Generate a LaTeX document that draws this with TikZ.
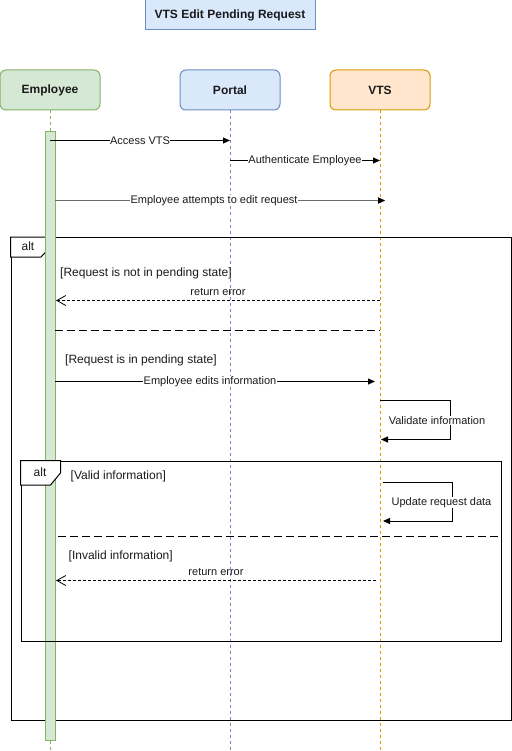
\documentclass[tikz,border=0pt]{standalone}
\usepackage{fontspec}
\setmainfont{Liberation Sans}
\usetikzlibrary{arrows.meta,calc}
\definecolor{empfill}{HTML}{D5E8D4}\definecolor{empdraw}{HTML}{82B366}
\definecolor{porfill}{HTML}{DAE8FC}\definecolor{pordraw}{HTML}{6C8EBF}
\definecolor{vtsfill}{HTML}{FFE6CC}\definecolor{vtsdraw}{HTML}{D79B00}
\definecolor{txt}{HTML}{1A1A1A}
\definecolor{arrgray}{HTML}{6A6A6A}
\tikzset{
  participant/.style={draw, rounded corners=6pt, minimum width=100pt, minimum height=40pt, line width=1pt, font=\fontsize{12}{14}\selectfont\bfseries, text=txt},
  lifeline/.style={line width=1pt, dash pattern=on 3pt off 3pt},
  msg/.style={line width=1pt, -{Triangle[length=7pt,width=6pt]}},
  ret/.style={line width=0.8pt, dash pattern=on 3pt off 2pt, -{Straight Barb[length=9pt,width=10pt]}},
  lbl/.style={fill=white, inner sep=0.5pt, font=\fontsize{11}{13}\selectfont, text=txt},
  toplbl/.style={inner sep=0.5pt, font=\fontsize{11}{13}\selectfont, text=txt},
  guard/.style={anchor=west, inner sep=0pt, font=\fontsize{12}{14}\selectfont, text=txt},
  frame/.style={draw, line width=1pt},
  sep/.style={line width=1pt, dash pattern=on 8pt off 4pt},
}
\begin{document}
\begin{tikzpicture}[x=1pt,y=-1pt]
\useasboundingbox (0,0) rectangle (511,751);
% title
\node[draw=pordraw, fill=porfill, line width=1pt, minimum width=170pt, minimum height=30pt, font=\fontsize{12}{14}\selectfont\bfseries, text=txt] (title) at (230,15) {VTS Edit Pending Request};
% participants
\node[participant, fill=empfill, draw=empdraw] (emp) at (50,90) {Employee};
\node[participant, fill=porfill, draw=pordraw] (por) at (230,90) {Portal};
\node[participant, fill=vtsfill, draw=vtsdraw] (vts) at (380,90) {VTS};
\coordinate (empEnd) at (50,751);
\coordinate (porEnd) at (230,751);
\coordinate (vtsEnd) at (380,751);
\draw[lifeline, draw=empdraw] (emp.south) -- (empEnd);
\draw[lifeline, draw=pordraw] (por.south) -- (porEnd);
\draw[lifeline, draw=vtsdraw] (vts.south) -- (vtsEnd);
% outer alt frame
\node[frame, minimum width=500pt, minimum height=483pt, anchor=north west, inner sep=0pt] (altA) at (10.5,237) {};
\draw[line width=1pt, fill=white] (altA.north west) -- (50.5,237) -- (50.5,247) -- (41,257) -- (10.5,257) -- cycle;
\node[toplbl, font=\fontsize{12}{14}\selectfont] (altAl) at (28,246) {alt};
% activation
\node[draw=empdraw, fill=empfill, line width=1pt, minimum width=10pt, minimum height=609pt, inner sep=0pt, anchor=north] (act) at (50.5,131) {};
% inner alt frame
\node[frame, minimum width=480pt, minimum height=180pt, anchor=north west, inner sep=0pt] (altB) at (20.5,460.5) {};
\draw[line width=1pt, fill=white] (altB.north west) -- (60.5,460.5) -- (60.5,473) -- (50.5,485) -- (20.5,485) -- cycle;
\node[toplbl, font=\fontsize{12}{14}\selectfont] (altBl) at (40,472) {alt};
% messages
\coordinate (m1a) at (50,140.5); \coordinate (m1b) at (230,140.5);
\draw[msg] (m1a) -- (m1b) node[lbl, midway] (m1l) {Access VTS};
\coordinate (m2a) at (230,160.5); \coordinate (m2b) at (380,160.5);
\draw[msg] (m2a) -- (m2b) node[lbl, midway] (m2l) {Authenticate Employee};
\coordinate (m3a) at (55,200.5); \coordinate (m3b) at (385,200.5);
\draw[msg, draw=arrgray] (m3a) -- (m3b);
\node[lbl] (m3l) at (214,200.5) {Employee attempts to edit request};
\draw[-{Triangle[length=7pt,width=6pt]}, line width=1pt] ($(m3b)+(-2,0)$) -- (m3b);
% alt 1
\node[guard] (g1) at (60,273) {[Request is not in pending state]};
\coordinate (r1a) at (380,300.5); \coordinate (r1b) at (56,300.5);
\draw[ret] (r1a) -- (r1b) node[toplbl, midway, above=3.5pt] (r1l) {return error};
\coordinate (s1a) at (55,330); \coordinate (s1b) at (380,330);
\draw[sep] (s1a) -- (s1b);
\node[guard] (g2) at (65,360.5) {[Request is in pending state]};
\coordinate (m4a) at (55,381.5); \coordinate (m4b) at (375,381.5);
\draw[msg] (m4a) -- (m4b);
\node[lbl] (m4l) at (210,381.5) {Employee edits information};
% validate loop
\coordinate (v1a) at (380,400.5); \coordinate (v1b) at (381,439.5);
\draw[msg] (v1a) -- (450.5,400.5) -- (450.5,439.5) -- (v1b);
\node[lbl] (v1l) at (437,420.5) {Validate information};
% inner alt
\node[guard] (g3) at (70.5,476) {[Valid information]};
\coordinate (u1a) at (382.5,482.5); \coordinate (u1b) at (383,521);
\draw[msg] (u1a) -- (452.5,482.5) -- (452.5,521) -- (u1b);
\node[lbl] (u1l) at (441.5,502.5) {Update request data};
\coordinate (s2a) at (58,536); \coordinate (s2b) at (500,536);
\draw[sep] (s2a) -- (s2b);
\node[guard] (g4) at (68.5,556) {[Invalid information]};
\coordinate (r2a) at (376,580.5); \coordinate (r2b) at (56,580.5);
\draw[ret] (r2a) -- (r2b) node[toplbl, midway, above=3.5pt] (r2l) {return error};
\end{tikzpicture}
\end{document}
